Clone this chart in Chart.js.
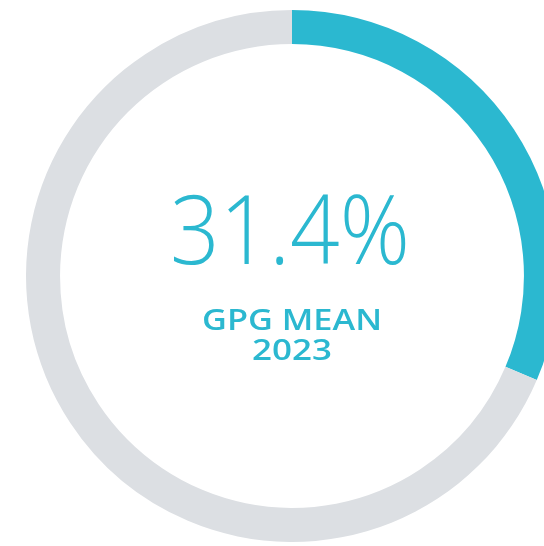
<!DOCTYPE html>
<html>
<head>
<meta charset="utf-8">
<script src="https://cdn.jsdelivr.net/npm/chart.js@4/dist/chart.umd.min.js"></script>
<style>
  html, body { margin: 0; padding: 0; background: #ffffff; overflow: hidden; width: 544px; height: 546px; }
  #wrap { position: absolute; left: 26px; top: 10px; width: 532px; height: 532px; }
</style>
</head>
<body>
<div id="wrap"><canvas id="c" width="532" height="532"></canvas></div>
<script>
const categories = ["GPG mean 2023", "Remainder"];
const values = [31.4, 68.6];
const bigLabel = "31.4%";
const subLabels = ["GPG MEAN", "2023"];

const TEAL = "#2BB8D0";
const GREY = "#DCDFE3";

const centerText = {
  id: "centerText",
  afterDraw(chart) {
    const ctx = chart.ctx;
    const meta = chart.getDatasetMeta(0).data[0];
    const cx = meta.x, cy = meta.y;
    ctx.save();
    ctx.fillStyle = TEAL;
    ctx.textAlign = "center";
    ctx.textBaseline = "alphabetic";
    function fitText(txt, font, targetW, x, baseY) {
      ctx.font = font;
      const w = ctx.measureText(txt).width;
      const s = targetW / w;
      ctx.save();
      ctx.translate(x, baseY);
      ctx.scale(s, 1);
      ctx.fillText(txt, 0, 0);
      ctx.restore();
    }
    fitText(bigLabel, "300 96px 'Open Sans', Lato, sans-serif", 240, cx - 2, cy - 12);
    fitText(subLabels[0], "600 28px 'Open Sans', sans-serif", 180, cx, cy + 54);
    fitText(subLabels[1], "600 28px 'Open Sans', sans-serif", 80, cx, cy + 84);
    ctx.restore();
  }
};

new Chart(document.getElementById("c"), {
  type: "doughnut",
  data: {
    labels: categories,
    datasets: [{
      data: values,
      backgroundColor: [TEAL, GREY],
      borderWidth: 0,
      hoverOffset: 0,
      offset: 0
    }]
  },
  options: {
    responsive: false,
    animation: false,
    cutout: "87.2%",
    layout: { padding: 0 },
    plugins: { legend: { display: false }, tooltip: { enabled: false } }
  },
  plugins: [centerText]
});
</script>
</body>
</html>
